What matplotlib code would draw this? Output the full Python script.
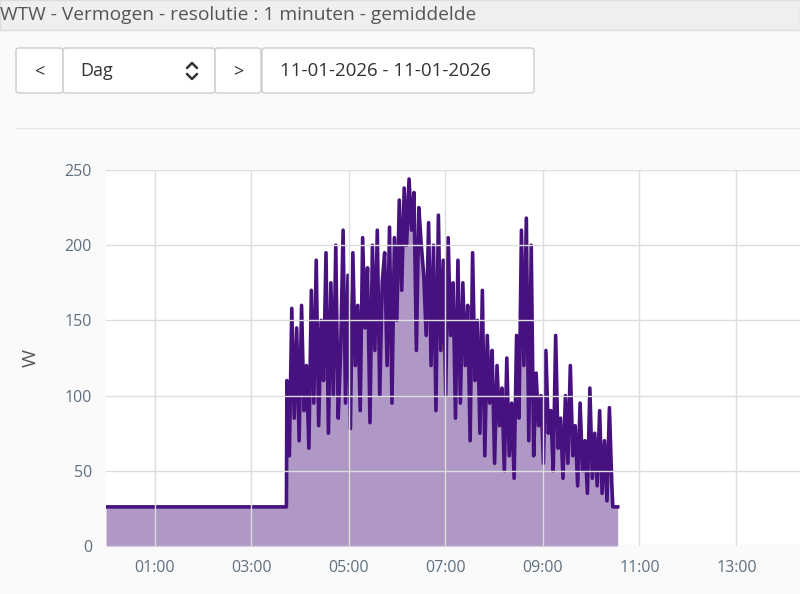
import matplotlib
matplotlib.use("Agg")
import matplotlib.pyplot as plt
import matplotlib.patches as patches
import numpy as np

plt.rcParams['font.family'] = ['Open Sans', 'DejaVu Sans']

# power readings (W), 3-minute steps from 03:45 to 10:27
spikes = [
    110, 60, 158, 85, 145, 70, 160, 90, 120, 65,
    170, 95, 190, 80, 150, 110, 195, 75, 175, 100,
    200, 85, 130, 210, 95, 180, 78, 195, 120, 160,
    90, 205, 145, 185, 82, 200, 130, 210, 100, 175,
    195, 120, 212, 95, 205, 150, 230, 170, 238, 200,
    244, 210, 235, 130, 225, 200, 180, 140, 215, 120,
    200, 90, 220, 130, 190, 100, 205, 140, 175, 85,
    190, 95, 175, 120, 160, 70, 195, 110, 150, 75,
    170, 60, 140, 95, 130, 55, 120, 80, 105, 50,
    125, 60, 95, 45, 140, 85, 210, 120, 218, 70,
    200, 60, 115, 80, 100, 55, 130, 75, 90, 50,
    140, 65, 85, 45, 100, 55, 120, 60, 80, 40,
    95, 50, 70, 35, 105, 45, 75, 40, 90, 35,
    70, 30, 92, 40,
]
base_level = 26
base_start = [0.0, 3.72]
base_end = [10.45, 10.55]
tick_hours = [1, 3, 5, 7, 9, 11, 13]
tick_labels = ["01:00", "03:00", "05:00", "07:00", "09:00", "11:00", "13:00"]
y_ticks = [0, 50, 100, 150, 200, 250]

spike_t = 3.73 + np.arange(len(spikes)) * (10.43 - 3.73) / (len(spikes) - 1)
t = np.concatenate([base_start, spike_t, base_end])
w = np.concatenate([[base_level] * 2, spikes, [base_level] * 2])

fig = plt.figure(figsize=(8, 5.94), dpi=100)
fig.patch.set_facecolor("#fafafa")

# title bar
fig.patches.append(patches.Rectangle((0, 1 - 30 / 594), 1, 30 / 594, transform=fig.transFigure,
                                     facecolor="#efefef", edgecolor="#dddddd", lw=1))
fig.text(0.0, 1 - 15 / 594, "WTW - Vermogen - resolutie : 1 minuten - gemiddelde",
         fontsize=13.8, color="#555555", va="center", ha="left")

# control buttons
def box(x0, x1, y0=48, y1=93):
    fig.patches.append(patches.FancyBboxPatch((x0 / 800, 1 - y1 / 594), (x1 - x0) / 800, (y1 - y0) / 594,
                                              boxstyle="round,pad=0,rounding_size=0.004",
                                              transform=fig.transFigure, facecolor="#ffffff",
                                              edgecolor="#cccccc", lw=1))

box(16, 63)
box(63, 215)
box(215, 261)
box(262, 534)
ty = 1 - 71 / 594
fig.text(39 / 800, ty, "<", fontsize=13, color="#333333", ha="center", va="center")
fig.text(80 / 800, ty, "Dag", fontsize=13, color="#333333", ha="left", va="center")
# select chevrons
for ys in ([68, 63, 68], [74, 79, 74]):
    fig.add_artist(plt.Line2D([187 / 800, 192 / 800, 197 / 800], [1 - y / 594 for y in ys],
                              color="#333333", lw=1.8, solid_capstyle="round"))
fig.text(238 / 800, ty, ">", fontsize=13, color="#333333", ha="center", va="center")
fig.text(280 / 800, ty, "11-01-2026 - 11-01-2026", fontsize=13.5, color="#333333",
         ha="left", va="center")
fig.add_artist(plt.Line2D([16 / 800, 1], [1 - 128 / 594] * 2, color="#e6e6e6", lw=1))

ax = fig.add_axes([106 / 800, 48 / 594, 694 / 800, 376 / 594])
ax.set_facecolor("#ffffff")
ax.fill_between(t, w, color="#af98c6", lw=0)
ax.plot(t, w, color="#47127f", lw=2.6, solid_joinstyle="round")
ax.set_xlim(0, 694 / 48.5)
ax.set_ylim(0, 250)
ax.set_xticks(tick_hours, tick_labels)
ax.set_yticks(y_ticks)
ax.grid(True, color="#dddddd", lw=1)
ax.set_axisbelow(False)
for s in ax.spines.values():
    s.set_visible(False)
ax.tick_params(length=0, colors="#607080", labelsize=11.5, pad=10)
ax.set_ylabel("W", fontsize=14, color="#555555", labelpad=18)

fig.savefig("out.png", dpi=100, facecolor=fig.get_facecolor())
